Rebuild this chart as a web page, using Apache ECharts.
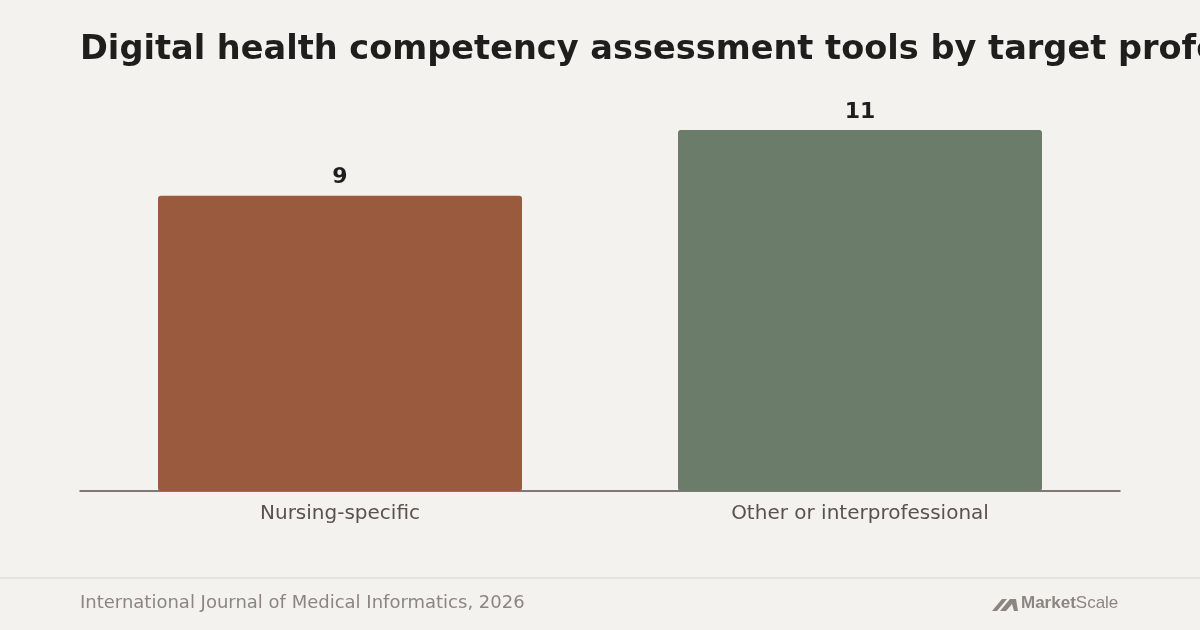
<!DOCTYPE html>
<html><head><meta charset="utf-8">
<script src="https://cdn.jsdelivr.net/npm/echarts@6/dist/echarts.min.js"></script>
<style>html,body{margin:0;padding:0;background:#f3f2ee;}#c{width:1200px;height:630px;}</style>
</head><body><div id="c"></div>
<script>
const categories = ["Nursing-specific", "Other or interprofessional"];
const values = [9, 11];
const barColors = ["#9a5a3e", "#6b7c6a"];
const titleText = "Digital health competency assessment tools by target profession";
const sourceText = "International Journal of Medical Informatics, 2026";

const FF = '"DejaVu Sans", Verdana, sans-serif';
const chart = echarts.init(document.getElementById('c'));
chart.setOption({
  backgroundColor: '#f3f2ee',
  animation: false,
  textStyle: { fontFamily: FF },
  grid: { left: 80, right: 80, top: 130, bottom: 139, containLabel: false },
  xAxis: {
    type: 'category', data: categories,
    axisLine: { show: true, lineStyle: { color: '#57534e', width: 1.5 } },
    axisTick: { show: false },
    axisLabel: { color: '#57534e', fontSize: 20, margin: 13, fontFamily: FF }
  },
  yAxis: { type: 'value', min: 0, max: 11, show: false, splitLine: { show: false } },
  series: [{
    type: 'bar', barWidth: '70%',
    data: values.map((v, i) => ({ value: v, itemStyle: { color: barColors[i] } })),
    itemStyle: { borderRadius: 3 },
    label: { show: true, position: 'top', distance: 7, color: '#1f1e1c', fontSize: 22, fontWeight: 'bold', fontFamily: FF }
  }],
  graphic: [
    { type: 'text', left: 80, top: 33, style: { text: titleText, fill: '#1f1e1c', font: 'bold 33.6px ' + FF } },
    { type: 'rect', left: 0, top: 577, shape: { width: 1200, height: 2 }, style: { fill: '#e6e4df' } },
    { type: 'text', left: 80, top: 594, style: { text: sourceText, fill: '#8a8782', font: '18px ' + FF } },
    { type: 'polygon', shape: { points: [[992,611],[1002,599],[1007,599],[997,611]] }, style: { fill: '#8a8782' } },
    { type: 'polygon', shape: { points: [[1000,611],[1010,599],[1016,599],[1018,611],[1014,611],[1012,604],[1006,611]] }, style: { fill: '#8a8782' } },
    { type: 'text', left: 1021, top: 595, style: {
        text: '{a|Market}{b|Scale}',
        rich: {
          a: { fill: '#8a8782', fontSize: 17, fontWeight: 'bold', fontFamily: '"Liberation Sans", Arial, sans-serif' },
          b: { fill: '#8a8782', fontSize: 17, fontFamily: '"Liberation Sans", Arial, sans-serif' }
        } } }
  ]
});
</script></body></html>
